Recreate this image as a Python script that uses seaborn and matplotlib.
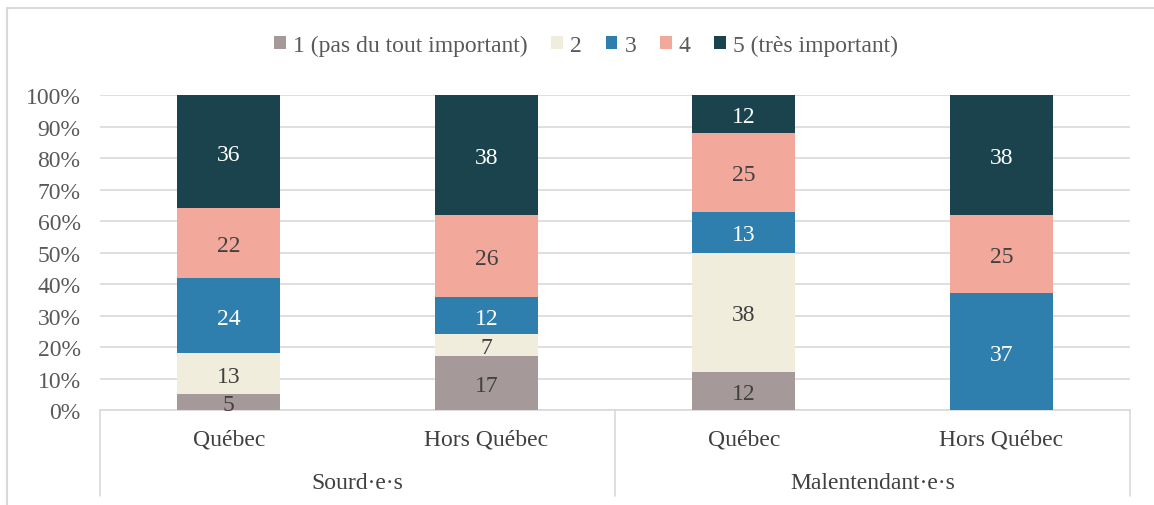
import numpy as np
import pandas as pd
import matplotlib
matplotlib.use("Agg")
import matplotlib.pyplot as plt
from matplotlib.patches import Patch, Rectangle
import seaborn as sns

# données (pourcentages)
groups = ["Sourd·e·s", "Malentendant·e·s"]
places = ["Québec", "Hors Québec", "Québec", "Hors Québec"]
levels = ["1 (pas du tout important)", "2", "3", "4", "5 (très important)"]
v1 = [5, 17, 12, 0]
v2 = [13, 7, 38, 0]
v3 = [24, 12, 13, 37]
v4 = [22, 26, 25, 25]
v5 = [36, 38, 12, 38]
colors = ["#A59A99", "#F0EDDC", "#2E7FAD", "#F2A89B", "#1B434E"]
text_colors = ["#404040", "#404040", "white", "#404040", "white"]

sns.set_style("white")
plt.rcParams["font.family"] = ["Liberation Serif", "DejaVu Serif"]
FS = 17

df = pd.DataFrame({"pos": ["c0", "c1", "c2", "c3"], "1": v1, "2": v2, "3": v3, "4": v4, "5": v5})
series = ["1", "2", "3", "4", "5"]
cum = df[series].cumsum(axis=1)

fig = plt.figure(figsize=(11.54, 5.06), dpi=100)
ax = fig.add_axes([0.0867, 0.1877, 0.8925, 0.6225])

# barres empilées : on dessine les cumuls du plus haut au plus bas
for i in reversed(range(5)):
    sns.barplot(x=df["pos"], y=cum[series[i]], color=colors[i], width=0.4,
                saturation=1, ax=ax, zorder=3, linewidth=0)

for j in range(4):
    for i in range(5):
        val = df[series[i]][j]
        if val <= 0:
            continue
        ymid = cum[series[i]][j] - val / 2
        ax.text(j, ymid, str(val), ha="center", va="center_baseline", fontsize=FS,
                color=text_colors[i], zorder=4)

ax.set_ylim(0, 100)
ax.set_xlim(-0.5, 3.5)
ax.set_yticks(np.arange(0, 101, 10))
ax.set_yticklabels([f"{t}%" for t in range(0, 101, 10)], fontsize=FS, color="#595959")
ax.tick_params(axis="y", length=0, pad=14)
ax.set_xticks([])
ax.set_xlabel("")
ax.set_ylabel("")
ax.yaxis.grid(True, color="#D9D9D9", linewidth=1.2, zorder=0)
for s in ["top", "right", "left"]:
    ax.spines[s].set_visible(False)
ax.spines["bottom"].set_color("#D9D9D9")
ax.spines["bottom"].set_linewidth(1.2)

# axe à deux niveaux
trans = ax.get_xaxis_transform()
for j, lab in enumerate(places):
    ax.text(j, -0.092, lab, transform=trans, ha="center", va="center",
            fontsize=FS, color="#404040")
for g, lab in enumerate(groups):
    ax.text(2 * g + 0.5, -0.229, lab, transform=trans, ha="center", va="center",
            fontsize=FS, color="#404040")
for xv in [-0.5, 1.5, 3.5]:
    ax.plot([xv, xv], [0, -0.273], transform=trans, color="#D9D9D9",
            linewidth=1.2, clip_on=False)

# légende
handles = [Patch(facecolor=c, edgecolor="none") for c in colors]
fig.legend(handles, levels, loc="center", bbox_to_anchor=(0.508, 0.908), ncol=5,
           frameon=False, fontsize=FS, handlelength=0.5, handleheight=0.5,
           handletextpad=0.3, columnspacing=1.0, labelcolor="#595959")

# cadre du graphique
fig.patches.append(Rectangle((7 / 1154, -0.1), 1.2, 1 - 9 / 506 + 0.1,
                             transform=fig.transFigure, fill=False,
                             edgecolor="#D9D9D9", linewidth=1.5))

fig.savefig("out.png", dpi=100)
